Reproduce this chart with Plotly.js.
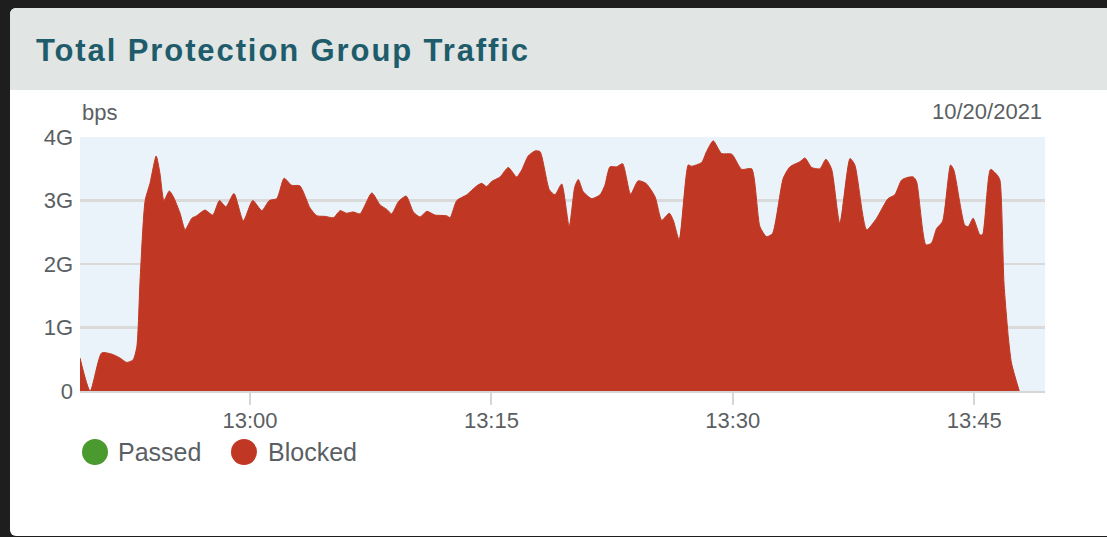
<!DOCTYPE html>
<html>
<head>
<meta charset="utf-8">
<script src="https://cdn.plot.ly/plotly-3.0.1.min.js"></script>
<style>
  html, body { margin: 0; padding: 0; background: #1e1e1e; width: 1107px; height: 537px; overflow: hidden; }
  #panel { position: absolute; left: 10px; top: 8px; width: 1110px; height: 528px; background: #ffffff; border-radius: 6px; overflow: hidden; }
  #header { position: absolute; left: 0; top: 0; width: 100%; height: 82px; background: #e1e5e4; }
  #chart { position: absolute; left: 0; top: 0; width: 1107px; height: 537px; }
  #chart .gtitle { letter-spacing: 1.9px; }
</style>
</head>
<body>
<div id="panel"><div id="header"></div></div>
<div id="chart"></div>
<script>
// ---- data ----
const chartTitle = 'Total Protection Group Traffic';
const dateLabel = '10/20/2021';
const unitLabel = 'bps';
const day = '2021-10-20';
const seriesNames = ['Passed', 'Blocked'];
const seriesColors = ['#4a9a30', '#c03823'];
const yTickVals = [0, 1, 2, 3, 4];
const yTickText = ['0', '1G', '2G', '3G', '4G'];

const times = [
  '12:49:26','12:50:04','12:50:47','12:51:25','12:51:55','12:52:20','12:52:44','12:52:58','12:53:10','12:53:29',
  '12:53:47','12:54:10','12:54:24','12:54:39','12:54:59','12:55:14','12:55:39','12:55:58','12:56:23','12:56:41',
  '12:57:12','12:57:41','12:58:06','12:58:30','12:59:00','12:59:35','13:00:10','13:00:44','13:01:12','13:01:40',
  '13:02:07','13:02:35','13:03:06','13:03:44','13:04:09','13:04:40','13:05:11','13:05:36','13:06:00','13:06:25',
  '13:06:50','13:07:34','13:08:05','13:08:30','13:08:48','13:09:13','13:09:42','13:10:09','13:10:34','13:10:59',
  '13:11:30','13:12:13','13:12:26','13:12:51','13:13:28','13:14:05','13:14:24','13:14:42','13:15:01','13:15:32',
  '13:16:03','13:16:34','13:16:53','13:17:17','13:17:42','13:18:01','13:18:36','13:18:57','13:19:22','13:19:50',
  '13:20:11','13:20:24','13:20:42','13:21:14','13:21:45','13:22:03','13:22:22','13:22:47','13:23:09','13:23:39',
  '13:24:07','13:24:36','13:25:10','13:25:35','13:26:03','13:26:18','13:26:40','13:27:14','13:27:26','13:28:04',
  '13:28:22','13:28:47','13:29:18','13:29:56','13:30:33','13:31:10','13:31:41','13:32:06','13:32:28','13:33:08',
  '13:33:33','13:34:10','13:34:29','13:34:54','13:35:25','13:35:47','13:36:08','13:36:39','13:37:17','13:37:35',
  '13:38:19','13:38:56','13:39:39','13:40:04','13:40:29','13:40:48','13:41:13','13:41:25','13:42:00','13:42:21',
  '13:42:40','13:43:02','13:43:32','13:43:44','13:44:25','13:44:38','13:44:56','13:45:21','13:45:31','13:46:01',
  '13:46:26','13:46:36','13:46:51','13:47:07','13:47:19','13:47:48'
];
// Blocked traffic, in Gbps
const blocked = [
  0.52, 0.00, 0.60, 0.58, 0.52, 0.45, 0.49, 0.70, 1.75, 3.00,
  3.27, 3.70, 3.43, 3.00, 3.15, 3.06, 2.80, 2.54, 2.72, 2.76,
  2.85, 2.77, 3.00, 2.90, 3.11, 2.68, 3.00, 2.84, 3.00, 3.03,
  3.35, 3.24, 3.23, 2.88, 2.76, 2.75, 2.73, 2.84, 2.80, 2.82,
  2.79, 3.12, 2.93, 2.86, 2.79, 2.98, 3.07, 2.82, 2.74, 2.83,
  2.77, 2.76, 2.73, 3.00, 3.09, 3.23, 3.27, 3.22, 3.30, 3.37,
  3.52, 3.37, 3.48, 3.70, 3.78, 3.77, 3.17, 3.09, 3.26, 2.59,
  3.22, 3.33, 3.14, 3.03, 3.09, 3.24, 3.53, 3.53, 3.58, 3.10,
  3.31, 3.27, 3.06, 2.69, 2.80, 2.69, 2.38, 3.56, 3.54, 3.60,
  3.77, 3.94, 3.74, 3.73, 3.49, 3.50, 2.59, 2.43, 2.48, 3.35,
  3.53, 3.61, 3.67, 3.52, 3.50, 3.65, 3.50, 2.64, 3.66, 3.56,
  2.54, 2.72, 3.03, 3.09, 3.32, 3.36, 3.37, 3.30, 2.30, 2.33,
  2.56, 2.67, 3.56, 3.48, 2.61, 2.59, 2.72, 2.46, 2.46, 3.49,
  3.40, 3.32, 1.70, 0.86, 0.44, 0.00
];
const xStart = '12:49:26';
const xEnd = '13:49:24';

// ---- chart ----
const x = times.map(t => day + ' ' + t);
const textColor = '#5b5f63';
const fontFam = '"Liberation Sans", Arial, sans-serif';

const traces = [{
  type: 'scatter',
  mode: 'lines',
  name: seriesNames[1],
  x: x,
  y: blocked,
  line: { color: seriesColors[1], width: 1, shape: 'spline', smoothing: 0.6 },
  fill: 'tozeroy',
  fillcolor: seriesColors[1],
  showlegend: false,
  hoverinfo: 'x+y'
}];

// legend drawn as circle markers + labels
const legendX = [95, 244];
const legendTextX = [116, 266];
const shapes = [];
const annotations = [];
const pxX = p => (p - 80) / 965;
const pxY = p => (391 - p) / 254;
seriesNames.forEach((n, i) => {
  shapes.push({
    type: 'circle', xref: 'paper', yref: 'paper',
    xsizemode: 'pixel', ysizemode: 'pixel',
    xanchor: pxX(legendX[i]), yanchor: pxY(452),
    x0: -13, x1: 13, y0: -13, y1: 13,
    fillcolor: seriesColors[i], line: { width: 0 }
  });
  annotations.push({
    xref: 'paper', yref: 'paper', x: pxX(legendTextX[i]), y: pxY(452),
    xanchor: 'left', yanchor: 'middle', showarrow: false, text: n,
    font: { family: fontFam, size: 25, color: textColor }
  });
});
annotations.push({
  xref: 'paper', yref: 'paper', x: pxX(80), y: pxY(113),
  xanchor: 'left', yanchor: 'middle', showarrow: false, text: unitLabel,
  font: { family: fontFam, size: 22, color: textColor }
});
annotations.push({
  xref: 'paper', yref: 'paper', x: pxX(1044), y: pxY(112),
  xanchor: 'right', yanchor: 'middle', showarrow: false, text: dateLabel,
  font: { family: fontFam, size: 22, color: textColor }
});

const layout = {
  width: 1107, height: 537,
  margin: { l: 80, r: 62, t: 137, b: 146, pad: 0 },
  paper_bgcolor: 'rgba(0,0,0,0)',
  plot_bgcolor: '#eaf3f9',
  title: {
    text: chartTitle,
    xref: 'container', yref: 'container',
    x: 36 / 1107, xanchor: 'left',
    y: 1 - 50 / 537, yanchor: 'middle',
    font: { family: fontFam, size: 31, color: '#1f5c6b', weight: 'bold' }
  },
  xaxis: {
    type: 'date',
    range: [day + ' ' + xStart, day + ' ' + xEnd],
    tick0: day + ' 13:00:00',
    dtick: 15 * 60 * 1000,
    tickformat: '%H:%M',
    showgrid: false,
    zeroline: false,
    showline: true, linecolor: '#d6d6d6', linewidth: 2,
    ticks: 'outside', ticklen: 12, tickwidth: 2, tickcolor: '#d6d6d6',
    ticklabelstandoff: -3,
    tickfont: { family: fontFam, size: 22, color: textColor },
    fixedrange: true
  },
  yaxis: {
    range: [0, 4],
    tickvals: yTickVals,
    ticktext: yTickText,
    showgrid: true, gridcolor: '#dadada', gridwidth: 2.5,
    zeroline: false, showline: false,
    ticks: '', ticklabelstandoff: 6,
    tickfont: { family: fontFam, size: 22, color: textColor },
    fixedrange: true
  },
  shapes: shapes,
  annotations: annotations,
  showlegend: false
};

Plotly.newPlot('chart', traces, layout, { displayModeBar: false, staticPlot: true });
</script>
</body>
</html>
